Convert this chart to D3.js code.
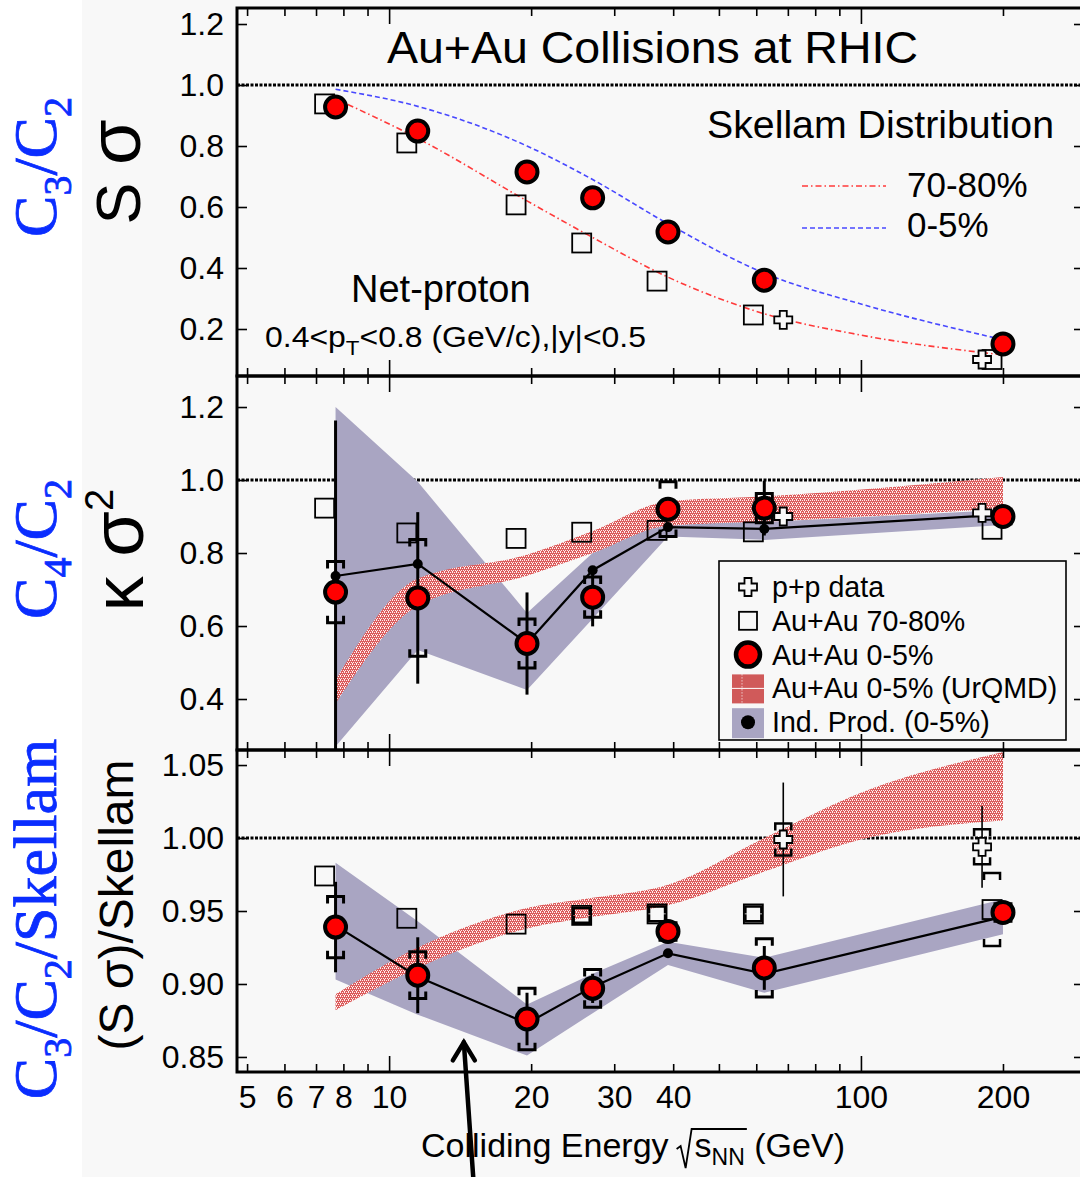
<!DOCTYPE html>
<html><head><meta charset="utf-8">
<script src="https://cdn.jsdelivr.net/npm/d3@7"></script>
<style>
html,body{margin:0;padding:0;background:#fff;}
svg{display:block;}
</style></head><body>
<svg id="chart" width="1080" height="1177"></svg>
<script>
// ---------------- DATA ----------------
const energies = [7.7, 11.5, 19.6, 27, 39, 62.4, 200];
const ppEnergies = [62.4, 200];

// Top panel: S*sigma
const sSigma0to5 = [0.928, 0.849, 0.715, 0.630, 0.518, 0.360, 0.151];
const sSigma70to80 = [0.938, 0.810, 0.607, 0.482, 0.357, 0.246, 0.100];
const sSigmaPP = [0.230, 0.100];
const skellamEnergies = [7.7, 11.5, 19.6, 27, 39, 62.4, 100, 200];
const skellam0to5 = [0.986, 0.930, 0.800, 0.690, 0.545, 0.383, 0.282, 0.165];
const skellam70to80 = [0.955, 0.825, 0.620, 0.500, 0.370, 0.250, 0.180, 0.115];

// Middle panel: kappa*sigma^2
const kSigma0to5 = [0.693, 0.677, 0.552, 0.679, 0.920, 0.923, 0.900];
const kSigma0to5Stat = [0.47, 0.235, 0.14, 0.08, 0.03, 0.075, 0.02];
const kSigma0to5Sys = [0.084, 0.16, 0.067, 0.055, 0.075, 0.04, 0.02];
const kSigma70to80 = [0.923, 0.855, 0.840, 0.857, 0.862, 0.858, 0.865];
const kSigmaPP = [0.900, 0.910];
const kSigmaIndProd = [0.737, 0.770, 0.553, 0.753, 0.871, 0.866, 0.905];
const kSigmaIndProdLow = [0.270, 0.534, 0.425, 0.620, 0.845, 0.836, 0.877];
const kSigmaIndProdHigh = [1.200, 0.995, 0.636, 0.800, 0.895, 0.885, 0.918];
const kSigmaUrqmdEnergies = [7.7, 11.5, 19.6, 27, 39, 62.4, 200];
const kSigmaUrqmdLow = [0.388, 0.655, 0.738, 0.800, 0.875, 0.886, 0.922];
const kSigmaUrqmdHigh = [0.452, 0.730, 0.795, 0.860, 0.942, 0.955, 1.008];

// Bottom panel: (S*sigma)/Skellam
const ratio0to5 = [0.939, 0.906, 0.876, 0.897, 0.936, 0.911, 0.949];
const ratio0to5Stat = [0.031, 0.026, 0.018, 0.010, 0.006, 0.015, 0.006];
const ratio0to5Sys = [0.021, 0.016, 0.021, 0.013, 0.006, 0.020, 0.006];
const ratio70to80 = [0.974, 0.945, 0.941, 0.947, 0.948, 0.948, 0.951];
const ratio70to80Sys = [0, 0, 0, 0.005, 0.005, 0.005, 0.025];
const ratioPP = [0.999, 0.994];
const ratioPPStat = [0.039, 0.028];
const ratioPPSys = [0.011, 0.012];
const ratioIndProd = [0.940, 0.905, 0.873, 0.898, 0.921, 0.907, 0.946];
const ratioIndProdLow = [0.903, 0.879, 0.851, 0.880, 0.913, 0.894, 0.934];
const ratioIndProdHigh = [0.983, 0.943, 0.886, 0.907, 0.929, 0.918, 0.958];
const ratioUrqmdEnergies = [7.7, 11.5, 19.6, 27, 39, 62.4, 100, 200];
const ratioUrqmdLow = [0.882, 0.911, 0.938, 0.946, 0.954, 0.977, 0.999, 1.012];
const ratioUrqmdHigh = [0.893, 0.925, 0.952, 0.959, 0.968, 1.000, 1.031, 1.059];

// Axes
const xTickLabels = [5, 6, 7, 8, 10, 20, 30, 40, 100, 200];
const xMinorTicks = [5, 6, 7, 8, 9, 20, 30, 40, 50, 60, 70, 80, 90, 200];
const xMajorTicks = [10, 100];
const topYTicks = [0.2, 0.4, 0.6, 0.8, 1.0, 1.2];
const midYTicks = [0.4, 0.6, 0.8, 1.0, 1.2];
const botYTicks = [0.85, 0.90, 0.95, 1.00, 1.05];

const legendLabels = ["p+p data", "Au+Au 70-80%", "Au+Au 0-5%", "Au+Au 0-5% (UrQMD)", "Ind. Prod. (0-5%)"];
const skellamLegend = ["70-80%", "0-5%"];

// ---------------- DRAWING ----------------
const svg = d3.select("#chart");
const SANS = '"Liberation Sans", Arial, Helvetica, sans-serif';
const SERIF = '"Liberation Serif", "Times New Roman", serif';
const BLUE = "#0a2dff";
svg.attr("font-family", SANS);

const X0 = 237, X1 = 1084;
const x = d3.scaleLog().domain([4.76, 297]).range([X0, X1]);
const sqShift = 0.948;            // display offset of 70-80% points
const ppShift = [1.097, 0.903];   // display offset of p+p points

const panels = [
  {top: 8, bottom: 376, domain: [0.0459, 1.2525], ticks: topYTicks, fmt: d3.format(".1f")},
  {top: 376, bottom: 750, domain: [0.2603, 1.285], ticks: midYTicks, fmt: d3.format(".1f")},
  {top: 750, bottom: 1072, domain: [0.8397, 1.0603], ticks: botYTicks, fmt: d3.format(".2f")}
];
panels.forEach(p => { p.y = d3.scaleLinear().domain(p.domain).range([p.bottom, p.top]); });

// background
svg.append("rect").attr("x", 82).attr("y", 0).attr("width", 1080 - 82).attr("height", 1177).attr("fill", "#f8f8f8");

const defs = svg.append("defs");
const pat = defs.append("pattern").attr("id", "urqmd").attr("width", 4).attr("height", 4).attr("patternUnits", "userSpaceOnUse");
pat.append("rect").attr("width", 4).attr("height", 4).attr("fill", "#dc5c5c");
[[0,0],[2,0],[1,2],[3,2],[0,3]].forEach(([a,b]) => pat.append("rect").attr("x", a).attr("y", b).attr("width", 1).attr("height", 1).attr("fill", "#fff0f0"));
panels.forEach((p, i) => {
  defs.append("clipPath").attr("id", "clip" + i).append("rect")
    .attr("x", X0).attr("y", p.top).attr("width", X1 - X0).attr("height", p.bottom - p.top);
});

const GRAY = "#a9a5c2";

function crossPath(cx, cy) {
  const a = 9, b = 3.5;
  return `M${cx-b},${cy-a}H${cx+b}V${cy-b}H${cx+a}V${cy+b}H${cx+b}V${cy+a}H${cx-b}V${cy+b}H${cx-a}V${cy-b}H${cx-b}Z`;
}
function brackets(g, cx, y, v, e, w = 3) {
  if (!e) return;
  const yt = y(v + e), yb = y(v - e), hw = 8, leg = 7;
  g.append("path").attr("d", `M${cx-hw},${yt+leg}V${yt}H${cx+hw}V${yt+leg}`).attr("fill", "none").attr("stroke", "#000").attr("stroke-width", w);
  g.append("path").attr("d", `M${cx-hw},${yb-leg}V${yb}H${cx+hw}V${yb-leg}`).attr("fill", "none").attr("stroke", "#000").attr("stroke-width", w);
}
function statBar(g, cx, y, v, e, w) {
  if (!e) return;
  g.append("line").attr("x1", cx).attr("x2", cx).attr("y1", y(v + e)).attr("y2", y(v - e)).attr("stroke", "#000").attr("stroke-width", w);
}
function drawSquares(g, y, vals, sys) {
  vals.forEach((v, i) => {
    const cx = x(energies[i] * sqShift), cy = y(v);
    g.append("rect").attr("x", cx - 9.5).attr("y", cy - 9.5).attr("width", 19).attr("height", 19)
      .attr("fill", "none").attr("stroke", "#000").attr("stroke-width", 1.8);
    if (sys) brackets(g, cx, y, v, sys[i], 2.5);
  });
}
function drawCrosses(g, y, vals, stat, sys) {
  vals.forEach((v, i) => {
    const cx = x(ppEnergies[i] * ppShift[i]), cy = y(v);
    if (stat) statBar(g, cx, y, v, stat[i], 1.6);
    if (sys) brackets(g, cx, y, v, sys[i], 2.5);
    g.append("path").attr("d", crossPath(cx, cy)).attr("fill", "#f8f8f8").attr("stroke", "#000").attr("stroke-width", 1.8);
  });
}
function drawCircles(g, y, vals, stat, sys) {
  vals.forEach((v, i) => {
    const cx = x(energies[i]);
    if (stat) statBar(g, cx, y, v, stat[i], 3);
    if (sys) brackets(g, cx, y, v, sys[i], 3);
  });
  vals.forEach((v, i) => {
    g.append("circle").attr("cx", x(energies[i])).attr("cy", y(v)).attr("r", 10.5)
      .attr("fill", "#ff0000").attr("stroke", "#000").attr("stroke-width", 4);
  });
}
function drawIndProd(g, y, vals, lo, hi) {
  const rows = energies.map((e, i) => ({e, v: vals[i], lo: lo[i], hi: hi[i]}));
  g.append("path").datum(rows).attr("fill", GRAY)
    .attr("d", d3.area().x(d => x(d.e)).y0(d => y(d.lo)).y1(d => y(d.hi)));
  return rows;
}
function drawIndProdLine(g, y, rows) {
  g.append("path").datum(rows).attr("fill", "none").attr("stroke", "#000").attr("stroke-width", 2.2)
    .attr("d", d3.line().x(d => x(d.e)).y(d => y(d.v)));
  rows.forEach(d => g.append("circle").attr("cx", x(d.e)).attr("cy", y(d.v)).attr("r", 5).attr("fill", "#000"));
}
function drawUrqmd(g, y, es, lo, hi) {
  const rows = es.map((e, i) => ({e, lo: lo[i], hi: hi[i]}));
  g.append("path").datum(rows).attr("fill", "url(#urqmd)")
    .attr("d", d3.area().x(d => x(d.e)).y0(d => y(d.lo)).y1(d => y(d.hi)).curve(d3.curveMonotoneX));
}
function dottedOne(g, y) {
  g.append("line").attr("x1", X0).attr("x2", X1).attr("y1", y(1)).attr("y2", y(1))
    .attr("stroke", "#000").attr("stroke-width", 3).attr("stroke-dasharray", "3,1.5");
}

// ---- Top panel
{
  const p = panels[0], y = p.y;
  const g = svg.append("g").attr("clip-path", "url(#clip0)");
  dottedOne(g, y);
  const line = d3.line().x(d => x(d.e)).y(d => y(d.v)).curve(d3.curveMonotoneX);
  g.append("path").datum(skellamEnergies.map((e, i) => ({e, v: skellam0to5[i]})))
    .attr("fill", "none").attr("stroke", "#4848ff").attr("stroke-width", 1.6).attr("stroke-dasharray", "5,3").attr("d", line);
  g.append("path").datum(skellamEnergies.map((e, i) => ({e, v: skellam70to80[i]})))
    .attr("fill", "none").attr("stroke", "#ff3a3a").attr("stroke-width", 1.6).attr("stroke-dasharray", "6,3,1.5,3").attr("d", line);
  drawSquares(g, y, sSigma70to80, null);
  drawCrosses(g, y, sSigmaPP, null, null);
  drawCircles(g, y, sSigma0to5, null, null);
}
// ---- Middle panel
{
  const p = panels[1], y = p.y;
  const g = svg.append("g").attr("clip-path", "url(#clip1)");
  dottedOne(g, y);
  const rows = drawIndProd(g, y, kSigmaIndProd, kSigmaIndProdLow, kSigmaIndProdHigh);
  drawUrqmd(g, y, kSigmaUrqmdEnergies, kSigmaUrqmdLow, kSigmaUrqmdHigh);
  drawIndProdLine(g, y, rows);
  drawSquares(g, y, kSigma70to80, null);
  drawCrosses(g, y, kSigmaPP, null, null);
  drawCircles(g, y, kSigma0to5, kSigma0to5Stat, kSigma0to5Sys);
}
// ---- Bottom panel
{
  const p = panels[2], y = p.y;
  const g = svg.append("g").attr("clip-path", "url(#clip2)");
  dottedOne(g, y);
  const rows = drawIndProd(g, y, ratioIndProd, ratioIndProdLow, ratioIndProdHigh);
  drawUrqmd(g, y, ratioUrqmdEnergies, ratioUrqmdLow, ratioUrqmdHigh);
  drawIndProdLine(g, y, rows);
  drawSquares(g, y, ratio70to80, ratio70to80Sys);
  drawCrosses(g, y, ratioPP, ratioPPStat, ratioPPSys);
  drawCircles(g, y, ratio0to5, ratio0to5Stat, ratio0to5Sys);
}

// ---- Axes & frames
function cleanAxis(g) {
  g.select(".domain").remove();
  g.attr("font-family", null).attr("font-size", null);
  g.selectAll(".tick line").attr("stroke", "#000").attr("stroke-width", 1.6);
  g.selectAll(".tick text").attr("fill", "#000").attr("font-size", 32);
}
panels.forEach(p => {
  cleanAxis(svg.append("g").attr("transform", `translate(0,${p.bottom})`).call(d3.axisBottom(x).tickValues(xMinorTicks).tickSize(-8).tickFormat("")));
  cleanAxis(svg.append("g").attr("transform", `translate(0,${p.bottom})`).call(d3.axisBottom(x).tickValues(xMajorTicks).tickSize(-16).tickFormat("")));
  cleanAxis(svg.append("g").attr("transform", `translate(0,${p.top})`).call(d3.axisTop(x).tickValues(xMinorTicks).tickSize(-8).tickFormat("")));
  cleanAxis(svg.append("g").attr("transform", `translate(0,${p.top})`).call(d3.axisTop(x).tickValues(xMajorTicks).tickSize(-16).tickFormat("")));
  cleanAxis(svg.append("g").attr("transform", `translate(${X0},0)`).call(d3.axisLeft(p.y).tickValues(p.ticks).tickSize(-10).tickPadding(13).tickFormat(p.fmt)));
  cleanAxis(svg.append("g").attr("transform", `translate(${X1},0)`).call(d3.axisRight(p.y).tickValues(p.ticks).tickSize(-10).tickFormat("")));
  svg.append("rect").attr("x", X0).attr("y", p.top).attr("width", X1 - X0).attr("height", p.bottom - p.top)
    .attr("fill", "none").attr("stroke", "#000").attr("stroke-width", 3);
});
cleanAxis(svg.append("g").attr("transform", `translate(0,${panels[2].bottom})`)
  .call(d3.axisBottom(x).tickValues(xTickLabels).tickSize(0).tickPadding(13).tickFormat(d3.format("d"))));

// ---- Top panel texts
svg.append("text").attr("x", 387).attr("y", 63).attr("font-size", 45).attr("textLength", 531)
  .attr("lengthAdjust", "spacingAndGlyphs").text("Au+Au Collisions at RHIC");
svg.append("text").attr("x", 707).attr("y", 138).attr("font-size", 38).attr("textLength", 347)
  .attr("lengthAdjust", "spacingAndGlyphs").text("Skellam Distribution");
svg.append("line").attr("x1", 802).attr("x2", 886).attr("y1", 186).attr("y2", 186)
  .attr("stroke", "#ff3a3a").attr("stroke-width", 1.6).attr("stroke-dasharray", "6,3,1.5,3");
svg.append("line").attr("x1", 802).attr("x2", 886).attr("y1", 228).attr("y2", 228)
  .attr("stroke", "#4848ff").attr("stroke-width", 1.6).attr("stroke-dasharray", "5,3");
svg.append("text").attr("x", 907).attr("y", 197).attr("font-size", 35).text(skellamLegend[0]);
svg.append("text").attr("x", 907).attr("y", 237).attr("font-size", 35).text(skellamLegend[1]);
svg.append("text").attr("x", 351).attr("y", 302).attr("font-size", 38).text("Net-proton");
{
  const t = svg.append("text").attr("x", 265).attr("y", 347).attr("font-size", 30)
    .attr("textLength", 381).attr("lengthAdjust", "spacingAndGlyphs");
  t.append("tspan").text("0.4<p");
  t.append("tspan").attr("font-size", 21).attr("dy", 8).text("T");
  t.append("tspan").attr("dy", -8).text("<0.8 (GeV/c),|y|<0.5");
}

// ---- Legend (middle panel)
{
  const lg = svg.append("g");
  lg.append("rect").attr("x", 719).attr("y", 561).attr("width", 347).attr("height", 179)
    .attr("fill", "none").attr("stroke", "#000").attr("stroke-width", 1.6);
  const base = 597, step = 33.8, tx = 772, sx = 748;
  legendLabels.forEach((lab, i) => {
    lg.append("text").attr("x", tx).attr("y", base + i * step).attr("font-size", 28.6).text(lab);
  });
  const cy = i => base + i * step - 10;
  lg.append("path").attr("d", crossPath(sx, cy(0))).attr("fill", "#f8f8f8").attr("stroke", "#000").attr("stroke-width", 1.8);
  lg.append("rect").attr("x", sx - 9).attr("y", cy(1) - 9).attr("width", 18).attr("height", 18).attr("fill", "none").attr("stroke", "#000").attr("stroke-width", 1.8);
  lg.append("circle").attr("cx", sx).attr("cy", cy(2)).attr("r", 12).attr("fill", "#ff0000").attr("stroke", "#000").attr("stroke-width", 4.5);
  lg.append("rect").attr("x", 732).attr("y", cy(3) - 14).attr("width", 32).attr("height", 29).attr("fill", "#d05a5a");
  lg.append("line").attr("x1", 742).attr("x2", 742).attr("y1", cy(3) - 14).attr("y2", cy(3) + 15).attr("stroke", "#fff").attr("stroke-width", 1).attr("stroke-dasharray", "1,2");
  lg.append("line").attr("x1", 732).attr("x2", 764).attr("y1", cy(3)).attr("y2", cy(3)).attr("stroke", "#fff").attr("stroke-width", 1);
  lg.append("rect").attr("x", 732).attr("y", cy(4) - 14).attr("width", 32).attr("height", 30).attr("fill", GRAY);
  lg.append("circle").attr("cx", sx).attr("cy", cy(4)).attr("r", 7).attr("fill", "#000");
}

// ---- Y axis titles
function rotText(xp, yp, size, family, color) {
  return svg.append("text").attr("transform", `translate(${xp},${yp}) rotate(-90)`)
    .attr("text-anchor", "middle").attr("font-size", size).attr("font-family", family).attr("fill", color);
}
{
  const t = rotText(140, 172, 63, SANS, "#000");
  t.append("tspan").text("S ");
  t.append("tspan").attr("font-size", 74).text("σ");
}
{
  const t = rotText(143, 550, 64, SANS, "#000");
  t.append("tspan").attr("font-size", 70).text("κ ");
  t.append("tspan").attr("font-size", 74).text("σ");
  t.append("tspan").attr("font-size", 40).attr("dy", -30).text("2");
}
rotText(133, 905, 48, SANS, "#000").text("(S σ)/Skellam");
function blueLabel(yp, parts) {
  const t = rotText(56, yp, 62, SERIF, BLUE).attr("stroke", BLUE).attr("stroke-width", 0.8);
  let shifted = false;
  parts.forEach(([s, sub]) => {
    if (sub) { t.append("tspan").attr("font-size", 40).attr("dy", 15).text(s); shifted = true; }
    else { t.append("tspan").attr("dy", shifted ? -15 : 0).text(s); shifted = false; }
  });
}
blueLabel(167, [["C"], ["3", 1], ["/C"], ["2", 1]]);
blueLabel(549, [["C"], ["4", 1], ["/C"], ["2", 1]]);
blueLabel(919, [["C"], ["3", 1], ["/C"], ["2", 1], ["/Skellam"]]);

// ---- X axis title
{
  const yb = 1157, fs = 34;
  const t1 = svg.append("text").attr("y", yb).attr("font-size", fs).text("Colliding Energy");
  const t2 = svg.append("text").attr("y", yb).attr("font-size", fs);
  t2.append("tspan").text("s");
  t2.append("tspan").attr("font-size", 23).attr("dy", 8).text("NN");
  t2.append("tspan").attr("dy", -8).text(" (GeV)");
  const l1 = t1.node().getComputedTextLength();
  const l2 = t2.node().getComputedTextLength();
  const sLen = t2.node().getSubStringLength(0, 3);
  const total = l1 + 26 + l2;
  const x0 = 633 - total / 2;
  t1.attr("x", x0);
  const r0 = x0 + l1 + 8;
  t2.attr("x", r0 + 18);
  svg.append("path").attr("d", `M${r0},${yb-8}L${r0+4},${yb-11}L${r0+9},${yb+11}L${r0+15},${yb-28}H${r0+18+sLen+2}`)
    .attr("fill", "none").attr("stroke", "#000").attr("stroke-width", 1.8);
}

// ---- Arrow annotation
{
  const tipX = x(14.4), tipY = panels[2].y(0.86);
  const tailX = x(15.1), tailY = 1177;
  const g = svg.append("g").attr("stroke", "#000").attr("stroke-width", 4.5).attr("fill", "none").attr("stroke-linecap", "round");
  g.append("line").attr("x1", tailX).attr("y1", tailY + 5).attr("x2", tipX).attr("y2", tipY);
  g.append("path").attr("d", `M${tipX-11},${tipY+18}L${tipX},${tipY}L${tipX+11},${tipY+18}`);
}
</script>
</body></html>
